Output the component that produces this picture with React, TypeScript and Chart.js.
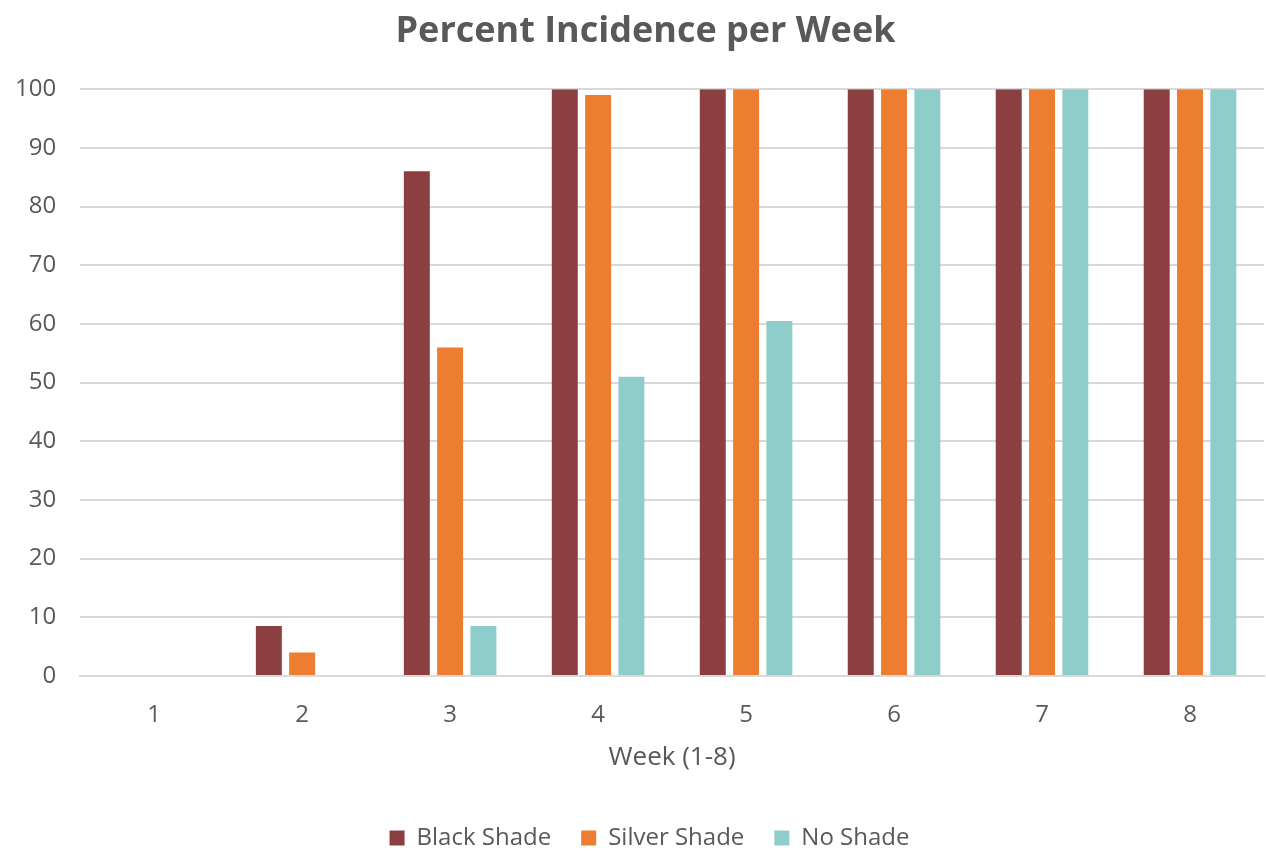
import React, { useEffect, useRef } from "react";
import { Chart, registerables } from "chart.js";

Chart.register(...registerables);

const weeks = ["1", "2", "3", "4", "5", "6", "7", "8"];
const blackShade = [0, 8.5, 86, 100, 100, 100, 100, 100];
const silverShade = [0, 4, 56, 99, 100, 100, 100, 100];
const noShade = [0, 0, 8.5, 51, 60.5, 100, 100, 100];
const yTicks = [0, 10, 20, 30, 40, 50, 60, 70, 80, 90, 100];

const FONT = "'Open Sans', 'Noto Sans', sans-serif";
const TEXT = "#595959";
const LEGEND_PAD = 30;

const layoutTweaks = {
  id: "layoutTweaks",
  beforeUpdate(chart: any) {
    const lg = chart.legend;
    if (lg && !lg._patched) {
      const orig = lg.fit.bind(lg);
      lg.fit = function () {
        orig();
        this.height = 26 + LEGEND_PAD;
      };
      lg._patched = true;
    }
  },
  afterLayout(chart: any) {
    if (chart.legend) chart.legend.left += 44;
    if (chart.titleBlock) chart.titleBlock.left += 36;
  },
};

export default function App() {
  const ref = useRef<HTMLCanvasElement | null>(null);
  useEffect(() => {
    document.body.style.margin = "0";
    const ctx = ref.current!;
    const chart = new Chart(ctx, {
      type: "bar",
      data: {
        labels: weeks,
        datasets: [
          { label: "Black Shade", data: blackShade, backgroundColor: "#8B3F41" },
          { label: "Silver Shade", data: silverShade, backgroundColor: "#ED7D31" },
          { label: "No Shade", data: noShade, backgroundColor: "#8FCDCA" },
        ],
      },
      plugins: [layoutTweaks],
      options: {
        animation: false,
        responsive: false,
        maintainAspectRatio: false,
        layout: { padding: { left: -9, right: 2, top: 6, bottom: 0 } },
        datasets: { bar: { categoryPercentage: 0.675, barPercentage: 0.78 } },
        plugins: {
          title: {
            display: true,
            text: "Percent Incidence per Week",
            color: TEXT,
            font: { family: FONT, size: 36, weight: "bold" },
            padding: { top: 4, bottom: 36 },
          },
          legend: {
            position: "bottom",
            labels: {
              color: TEXT,
              font: { family: FONT, size: 24 },
              boxWidth: 15,
              boxHeight: 15,
              padding: LEGEND_PAD,
            },
          },
          tooltip: { enabled: false },
        },
        scales: {
          x: {
            grid: { display: false },
            border: { display: true, color: "#D9D9D9", width: 2 },
            ticks: { color: TEXT, font: { family: FONT, size: 24 }, padding: 17 },
            title: {
              display: true,
              text: "Week (1-8)",
              color: TEXT,
              font: { family: FONT, size: 26 },
              padding: { top: -5, bottom: 23 },
            },
          },
          y: {
            min: 0,
            max: 100,
            afterBuildTicks: (axis: any) => {
              axis.ticks = yTicks.map((v) => ({ value: v }));
            },
            grid: { color: "#D9D9D9", lineWidth: 2, drawTicks: false },
            border: { display: false },
            ticks: { color: TEXT, font: { family: FONT, size: 24 }, padding: 24 },
          },
        },
      },
    });
    return () => chart.destroy();
  }, []);
  return (
    <div style={{ width: 1266, height: 852 }}>
      <canvas ref={ref} width={1266} height={852} />
    </div>
  );
}
